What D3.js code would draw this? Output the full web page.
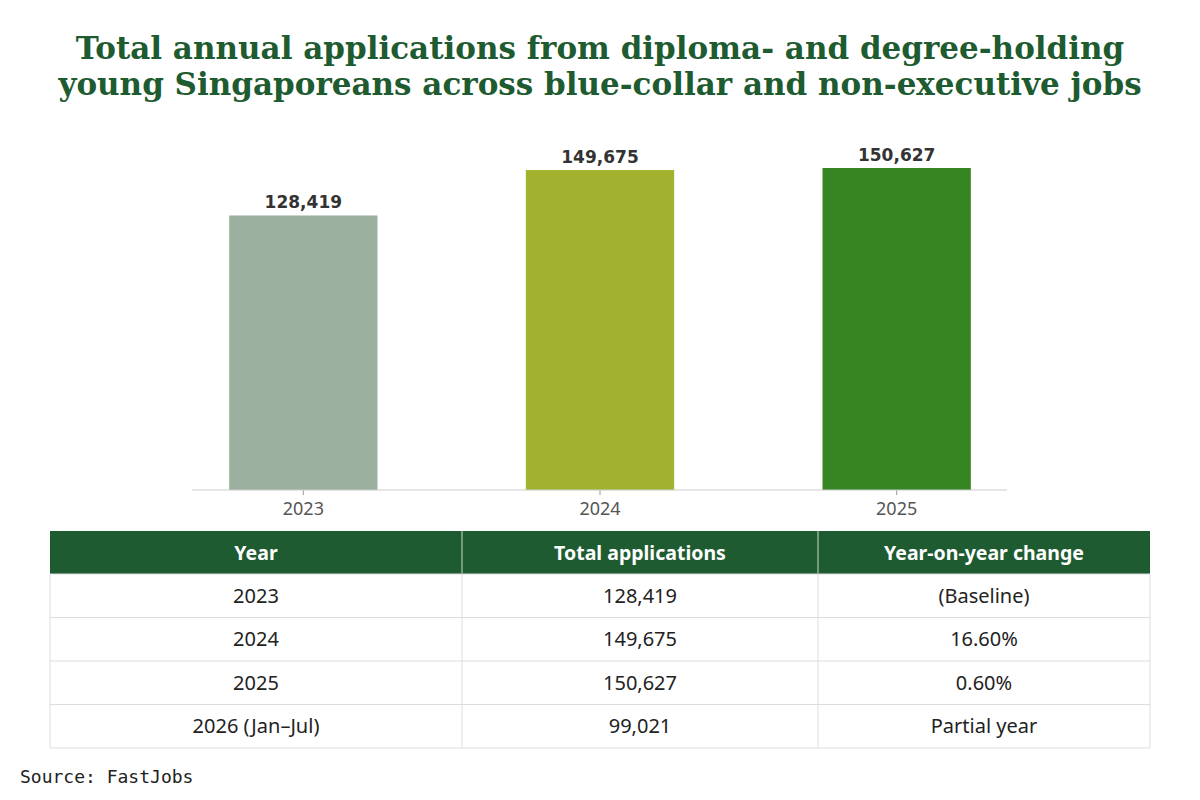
<!DOCTYPE html>
<html>
<head>
<meta charset="utf-8">
<script src="https://cdn.jsdelivr.net/npm/d3@7"></script>
<style>
  body { margin: 0; background: #fff; }
</style>
</head>
<body>
<script>
// chart data
var years = ["2023", "2024", "2025"];
var applications = [128419, 149675, 150627];
var barColors = ["#9bb09f", "#a2b22e", "#378522"];

// table data
var tableHeaders = ["Year", "Total applications", "Year-on-year change"];
var tableYears = ["2023", "2024", "2025", "2026 (Jan\u2013Jul)"];
var tableTotals = ["128,419", "149,675", "150,627", "99,021"];
var tableChange = ["(Baseline)", "16.60%", "0.60%", "Partial year"];

var w = 1200, h = 800;
var green = "#1e5b30";

var svg = d3.select("body").append("svg")
  .attr("width", w)
  .attr("height", h);

// title
var title = svg.append("text")
  .attr("text-anchor", "middle")
  .attr("font-family", "DejaVu Serif")
  .attr("font-weight", "bold")
  .attr("font-size", "31px")
  .attr("fill", green);
title.append("tspan").attr("x", 600).attr("y", 59)
  .text("Total annual applications from diploma- and degree-holding");
title.append("tspan").attr("x", 600).attr("y", 95)
  .text("young Singaporeans across blue-collar and non-executive jobs");

// bars
var x = d3.scaleBand()
  .domain(years)
  .range([155, 1045])
  .paddingInner(0.5)
  .paddingOuter(0.25);

var y = d3.scaleLinear()
  .domain([0, d3.max(applications)])
  .range([490, 168]);

svg.selectAll("rect.bar")
  .data(applications)
  .enter()
  .append("rect")
  .attr("class", "bar")
  .attr("x", function(d, i) { return x(years[i]); })
  .attr("y", function(d) { return y(d); })
  .attr("width", x.bandwidth())
  .attr("height", function(d) { return y(0) - y(d); })
  .attr("fill", function(d, i) { return barColors[i]; });

svg.selectAll("text.val")
  .data(applications)
  .enter()
  .append("text")
  .attr("class", "val")
  .attr("x", function(d, i) { return x(years[i]) + x.bandwidth() / 2; })
  .attr("y", function(d) { return y(d) - 7; })
  .attr("text-anchor", "middle")
  .attr("font-family", "DejaVu Sans")
  .attr("font-weight", "bold")
  .attr("font-size", "17px")
  .attr("fill", "#333")
  .text(function(d) { return d3.format(",")(d); });

// x axis
var axis = svg.append("g")
  .attr("transform", "translate(0,490)")
  .call(d3.axisBottom(x).tickSize(5).tickSizeOuter(0));
axis.select(".domain").remove();
axis.append("line")
  .attr("x1", 192).attr("x2", 1007)
  .attr("stroke", "#ccc");
axis.selectAll(".tick line").attr("stroke", "#999");
axis.selectAll(".tick text")
  .attr("font-family", "Noto Sans")
  .attr("font-size", "18px")
  .attr("fill", "#555")
  .attr("dy", "0.95em");

// table
var colEdges = [50, 462, 818, 1150];
var headTop = 531, headH = 43, rowH = 43.5;
var rows = tableYears.map(function(d, i) {
  return [d, tableTotals[i], tableChange[i]];
});

svg.append("rect")
  .attr("x", colEdges[0]).attr("y", headTop)
  .attr("width", colEdges[3] - colEdges[0]).attr("height", headH)
  .attr("fill", green);

svg.selectAll("text.head")
  .data(tableHeaders)
  .enter()
  .append("text")
  .attr("class", "head")
  .attr("x", function(d, i) { return (colEdges[i] + colEdges[i + 1]) / 2; })
  .attr("y", headTop + headH / 2 + 7)
  .attr("text-anchor", "middle")
  .attr("font-family", "Noto Sans")
  .attr("font-weight", "bold")
  .attr("font-size", "19.5px")
  .attr("fill", "#fff")
  .text(function(d) { return d; });

var bodyTop = headTop + headH;
var tableBottom = bodyTop + rowH * rows.length;

// grid lines
svg.selectAll("line.hrow")
  .data(d3.range(rows.length + 1))
  .enter()
  .append("line")
  .attr("class", "hrow")
  .attr("x1", colEdges[0]).attr("x2", colEdges[3])
  .attr("y1", function(d) { return bodyTop + d * rowH; })
  .attr("y2", function(d) { return bodyTop + d * rowH; })
  .attr("stroke", "#ddd");

svg.selectAll("line.vcol")
  .data(colEdges)
  .enter()
  .append("line")
  .attr("class", "vcol")
  .attr("x1", function(d) { return d; }).attr("x2", function(d) { return d; })
  .attr("y1", function(d, i) { return (i === 0 || i === 3) ? bodyTop : headTop; })
  .attr("y2", tableBottom)
  .attr("stroke", "#ddd");

svg.selectAll("line.vhead")
  .data(colEdges.slice(1, 3))
  .enter()
  .append("line")
  .attr("class", "vhead")
  .attr("x1", function(d) { return d; }).attr("x2", function(d) { return d; })
  .attr("y1", headTop).attr("y2", bodyTop)
  .attr("stroke", "#6f9a78");

var rowG = svg.selectAll("g.row")
  .data(rows)
  .enter()
  .append("g")
  .attr("class", "row")
  .attr("transform", function(d, i) {
    return "translate(0," + (bodyTop + i * rowH + rowH / 2 + 7) + ")";
  });

rowG.selectAll("text")
  .data(function(d) { return d; })
  .enter()
  .append("text")
  .attr("x", function(d, i) { return (colEdges[i] + colEdges[i + 1]) / 2; })
  .attr("text-anchor", "middle")
  .attr("font-family", "Noto Sans")
  .attr("font-size", "20px")
  .attr("fill", "#222")
  .text(function(d) { return d; });

// source
svg.append("text")
  .attr("x", 20).attr("y", 783)
  .attr("font-family", "DejaVu Sans Mono")
  .attr("font-size", "18px")
  .attr("fill", "#222")
  .text("Source: FastJobs");
</script>
</body>
</html>
